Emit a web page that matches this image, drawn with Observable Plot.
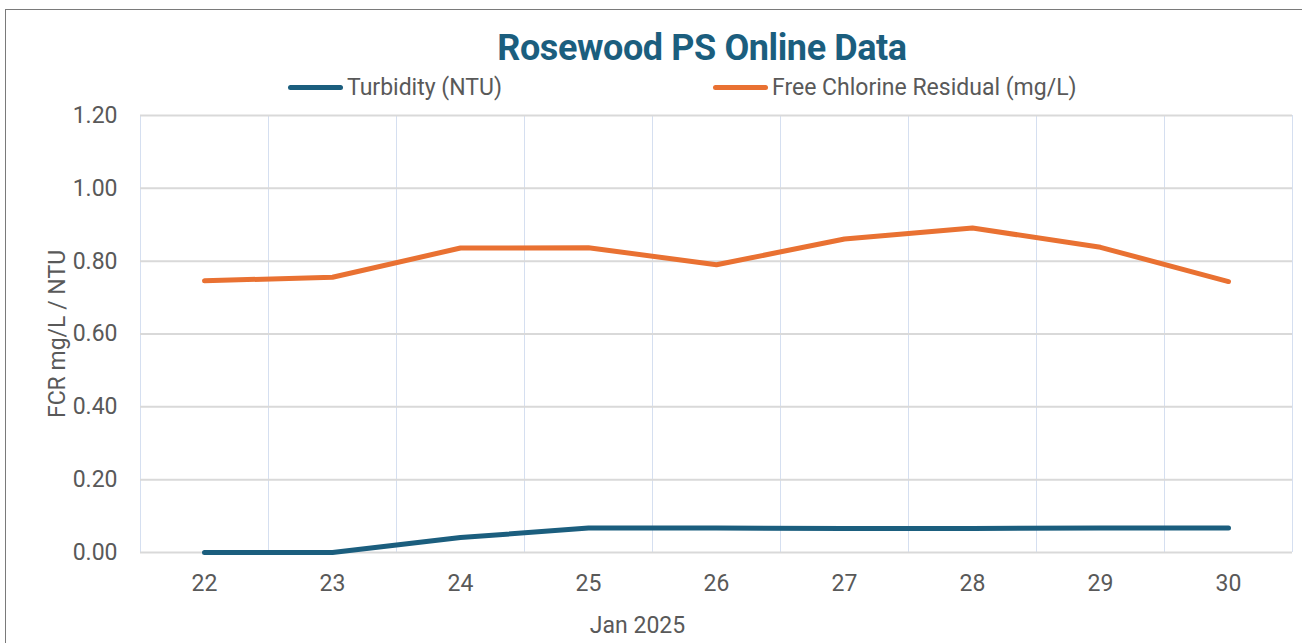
<!DOCTYPE html>
<html>
<head>
<meta charset="utf-8">
<script src="https://cdn.jsdelivr.net/npm/d3@7"></script>
<script src="https://cdn.jsdelivr.net/npm/@observablehq/plot@0.6"></script>
<style>
  html, body { margin: 0; padding: 0; background: #fff; }
  #wrap { position: relative; width: 1302px; height: 643px; overflow: hidden; font-family: Roboto, "Open Sans", sans-serif; }
  #border { position: absolute; left: 5px; top: 9px; width: 1310px; height: 700px; border: 1.5px solid #7a7a7a; box-sizing: border-box; }
  #title { position: absolute; left: 0; width: 1404px; top: 27px; text-align: center; font-size: 36px; font-weight: 700; color: #1b5e7e; line-height: 42px; letter-spacing: -0.4px; }
  .leg { position: absolute; top: 74px; height: 26px; display: flex; align-items: center; font-size: 23px; color: #595959; }
  .sw { width: 55px; height: 5px; border-radius: 3px; margin-right: 4px; }
  #chart { position: absolute; left: 0; top: 100px; }
</style>
</head>
<body>
<div id="wrap">
  <div id="border"></div>
  <div id="title"></div>
  <div id="legend"></div>
  <div id="chart"></div>
</div>
<script>
const title = "Rosewood PS Online Data";
const seriesNames = ["Turbidity (NTU)", "Free Chlorine Residual (mg/L)"];
const seriesColors = ["#1b5e7e", "#e97132"];
const days = [22, 23, 24, 25, 26, 27, 28, 29, 30];
const turbidity = [0.000, 0.000, 0.041, 0.067, 0.067, 0.066, 0.066, 0.067, 0.067];
const fcr = [0.746, 0.756, 0.836, 0.837, 0.790, 0.861, 0.891, 0.838, 0.744];
const yTicks = [0, 0.2, 0.4, 0.6, 0.8, 1.0, 1.2];
const yLabel = "FCR mg/L / NTU";
const xLabel = "Jan 2025";

document.getElementById("title").textContent = title;

const legendLeft = [288, 713];
const legend = document.getElementById("legend");
seriesNames.forEach((name, i) => {
  const item = document.createElement("div");
  item.className = "leg";
  item.style.left = legendLeft[i] + "px";
  const sw = document.createElement("div");
  sw.className = "sw";
  sw.style.background = seriesColors[i];
  const t = document.createElement("span");
  t.textContent = name;
  item.appendChild(sw);
  item.appendChild(t);
  legend.appendChild(item);
});

const turbData = days.map((d, i) => ({day: d, value: turbidity[i]}));
const fcrData = days.map((d, i) => ({day: d, value: fcr[i]}));
const bounds = days.map(d => d - 0.5).concat([days[days.length - 1] + 0.5]);

const chart = Plot.plot({
  width: 1302,
  height: 543,
  marginLeft: 140,
  marginRight: 10,
  marginTop: 15,
  marginBottom: 91,
  style: { fontFamily: "Roboto, 'Open Sans', sans-serif", fontSize: "23px", color: "#595959", background: "transparent" },
  x: { type: "linear", domain: [days[0] - 0.5, days[days.length - 1] + 0.5] },
  y: { domain: [0, 1.2] },
  marks: [
    Plot.ruleX(bounds, { stroke: "#d5dff0", strokeWidth: 1 }),
    Plot.ruleY(yTicks, { stroke: "#d9d9d9", strokeWidth: 2 }),
    Plot.axisY({ ticks: yTicks, tickFormat: d3.format(".2f"), tickSize: 0, tickPadding: 23, label: null, fill: "#595959", fontSize: 23 }),
    Plot.axisX({ ticks: days, tickFormat: d => String(d), tickSize: 0, tickPadding: 22, label: null, fill: "#595959", fontSize: 23 }),
    Plot.text([yLabel], { frameAnchor: "left", textAnchor: "middle", rotate: -90, dx: -83, fill: "#595959", fontSize: 23, text: d => d }),
    Plot.text([xLabel], { frameAnchor: "bottom", dx: -79, dy: 80, fill: "#595959", fontSize: 23, text: d => d }),
    Plot.lineY(turbData, { x: "day", y: "value", stroke: seriesColors[0], strokeWidth: 5, strokeLinecap: "round", strokeLinejoin: "round" }),
    Plot.lineY(fcrData, { x: "day", y: "value", stroke: seriesColors[1], strokeWidth: 5, strokeLinecap: "round", strokeLinejoin: "round" })
  ]
});
document.getElementById("chart").appendChild(chart);
</script>
</body>
</html>
